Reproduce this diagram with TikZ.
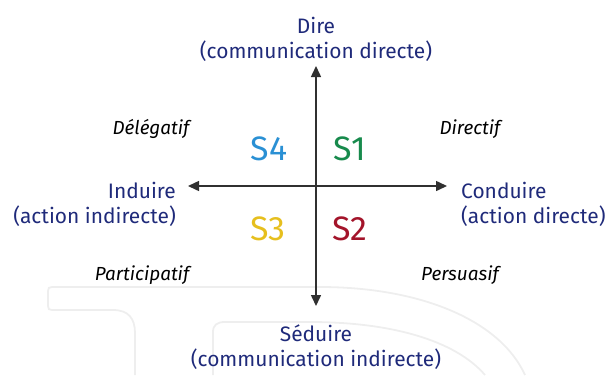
\documentclass[tikz,border=0pt]{standalone}
\usepackage{fontspec}
\setmainfont{Fira Sans}
\usetikzlibrary{arrows.meta}
\definecolor{navy}{HTML}{1F2A7A}
\definecolor{sfour}{HTML}{2A90D4}
\definecolor{sone}{HTML}{178A4C}
\definecolor{sthree}{HTML}{E6BF1E}
\definecolor{stwo}{HTML}{A3142A}
\definecolor{axis}{HTML}{303030}
\definecolor{wm}{HTML}{EEEEEE}
\tikzset{
  pole/.style={text=navy, font=\fontsize{21}{25}\selectfont, inner sep=0pt},
  style/.style={font=\fontsize{19}{22}\selectfont\itshape, inner sep=0pt},
  quad/.style={font=\fontsize{34}{38}\selectfont, inner sep=0pt},
  axisline/.style={draw=axis, line width=1.5bp, {Triangle[length=11bp,width=10bp]}-{Triangle[length=11bp,width=10bp]}},
  water/.style={draw=wm, line width=1.8bp}
}
\begin{document}
\begin{tikzpicture}[x=1bp,y=-1bp]
\useasboundingbox (0,0) rectangle (614,375);
% faint watermark
\draw[water] (135,375) -- (135,333) .. controls (135,318) and (128,310) .. (113,310) -- (52,310) .. controls (49,310) and (48,309) .. (48,306) -- (48,291) .. controls (48,288) and (49,287) .. (52,287) -- (320,287) .. controls (420,287) and (500,320) .. (525,375);
\draw[water] (213,375) -- (213,332) .. controls (213,325) and (217,322) .. (225,322) -- (310,322) .. controls (390,322) and (455,340) .. (485,375);
% axes
\coordinate (N) at (316,66);
\coordinate (S) at (316,306);
\coordinate (W) at (188,186);
\coordinate (E) at (447,186);
\draw[axisline] (S) -- (N);
\draw[axisline] (W) -- (E);
% poles
\node[pole, align=center] (dire) at (316,39) {Dire\\(communication directe)};
\node[pole, align=center] (seduire) at (316,347) {Séduire\\(communication indirecte)};
\node[pole, align=right, anchor=east] (induire) at (176,204) {Induire\\(action indirecte)};
\node[pole, align=left, anchor=west] (conduire) at (461,204) {Conduire\\(action directe)};
% styles
\node[style] (deleg) at (151,129) {Délégatif};
\node[style] (direc) at (470,129) {Directif};
\node[style] (partic) at (142,275) {Participatif};
\node[style] (persu) at (460,275) {Persuasif};
% quadrants
\node[quad, text=sfour] (s4) at (269,149) {S4};
\node[quad, text=sone] (s1) at (350,149) {S1};
\node[quad, text=sthree] (s3) at (268,229) {S3};
\node[quad, text=stwo] (s2) at (350,229) {S2};
\end{tikzpicture}
\end{document}
